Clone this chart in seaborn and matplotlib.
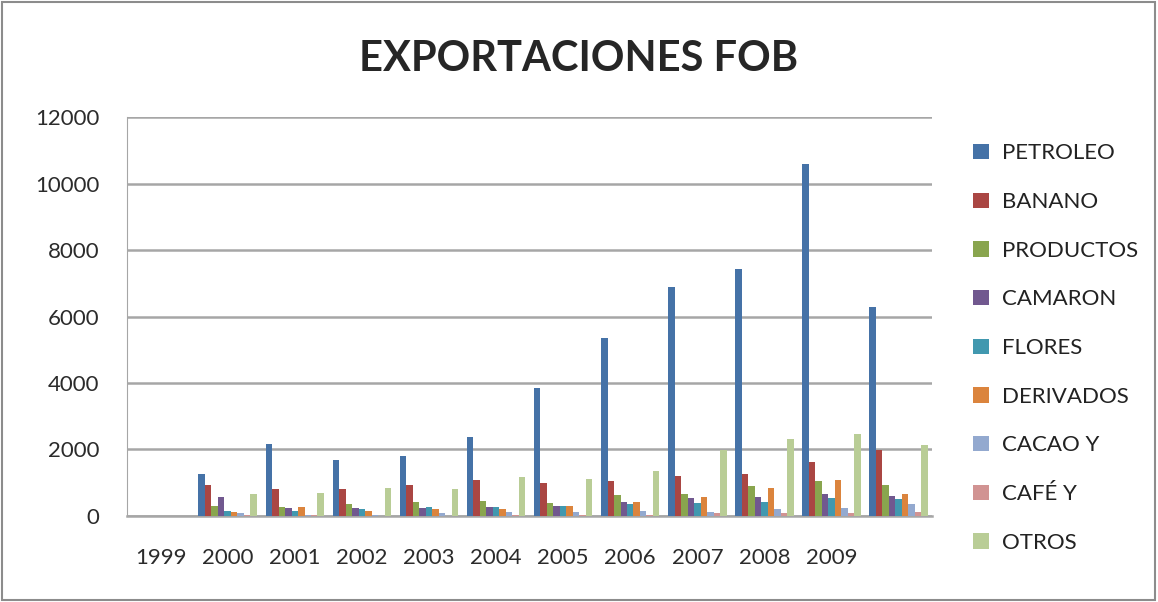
import numpy as np
import pandas as pd
import seaborn as sns
import matplotlib.pyplot as plt
from matplotlib.patches import Rectangle

# Categories (first slot has no data, last slot has no label)
years = ["1999", "2000", "2001", "2002", "2003", "2004", "2005",
         "2006", "2007", "2008", "2009", " "]

# Values
nan = np.nan
petroleo  = [nan, 1276, 2161, 1698, 1819, 2362, 3859, 5367, 6900, 7417, 10573, 6271]
banano    = [nan, 945, 804, 824, 945, 1095, 1005, 1055, 1206, 1266, 1628, 1970]
productos = [nan, 312, 281, 372, 432, 462, 402, 633, 663, 905, 1055, 935]
camaron   = [nan, 583, 251, 251, 241, 281, 312, 432, 543, 573, 663, 603]
flores    = [nan, 161, 161, 221, 281, 281, 312, 362, 402, 432, 543, 513]
derivados = [nan, 131, 281, 161, 211, 211, 312, 432, 573, 844, 1085, 663]
cacao     = [nan, 100, 40, 40, 100, 131, 131, 161, 131, 211, 241, 362]
cafe      = [nan, 40, 30, 10, 10, 30, 40, 40, 90, 90, 90, 121]
otros     = [nan, 673, 703, 854, 814, 1176, 1116, 1357, 1970, 2322, 2472, 2141]

series = ["PETROLEO", "BANANO", "PRODUCTOS", "CAMARON", "FLORES",
          "DERIVADOS", "CACAO Y", "CAFÉ Y", "OTROS"]
colors = ["#4572A7", "#AA4643", "#89A54E", "#71588F", "#4198AF",
          "#DB843D", "#93A9CF", "#D19392", "#B9CD96"]

wide = pd.DataFrame({"year": years, "PETROLEO": petroleo, "BANANO": banano,
                     "PRODUCTOS": productos, "CAMARON": camaron, "FLORES": flores,
                     "DERIVADOS": derivados, "CACAO Y": cacao, "CAFÉ Y": cafe,
                     "OTROS": otros})
df = wide.melt(id_vars="year", var_name="producto", value_name="valor")

sns.set_style("white")
plt.rcParams['font.family'] = ['Lato', 'DejaVu Sans']

fig = plt.figure(figsize=(11.58, 6.02), dpi=100)
ax = fig.add_axes([0.1097, 0.1429, 0.6953, 0.6627])

sns.barplot(data=df, x="year", y="valor", hue="producto", order=years,
            hue_order=series, palette=colors, width=0.87, saturation=1,
            errorbar=None, ax=ax, zorder=3, linewidth=0)

ax.set_ylim(0, 12000)
ax.set_yticks(range(0, 12001, 2000))
ax.set_xlim(-0.5, len(years) - 0.5)
ax.yaxis.grid(True, color="#A6A6A6", linewidth=1.8, zorder=0)
ax.set_axisbelow(True)
ax.set_xlabel("")
ax.set_ylabel("")
for s in ["top", "right"]:
    ax.spines[s].set_visible(False)
ax.spines["left"].set_color("#A6A6A6")
ax.spines["bottom"].set_color("#A6A6A6")
ax.spines["bottom"].set_linewidth(1.8)
ax.tick_params(axis="y", length=0, pad=20, labelsize=16, labelcolor="#2B2B2B")
ax.tick_params(axis="x", length=0, pad=23, labelsize=16, labelcolor="#2B2B2B")

ax.legend_.remove()
handles, labels = ax.get_legend_handles_labels()
fig.legend(handles, labels, loc="upper left", bbox_to_anchor=(0.823, 0.795),
           frameon=False, fontsize=16, labelspacing=1.29, handlelength=0.7,
           handleheight=0.7, handletextpad=0.6, labelcolor="#222222")

fig.text(0.5, 0.902, "EXPORTACIONES FOB", ha="center", va="center",
         fontsize=30, fontweight="bold", family=["Lato"])

# chart border
fig.patches.append(Rectangle((0.002, 0.004), 0.995, 0.992, transform=fig.transFigure,
                             fill=False, edgecolor="#8C8C8C", linewidth=1.5))

plt.savefig("out.png", dpi=100)
